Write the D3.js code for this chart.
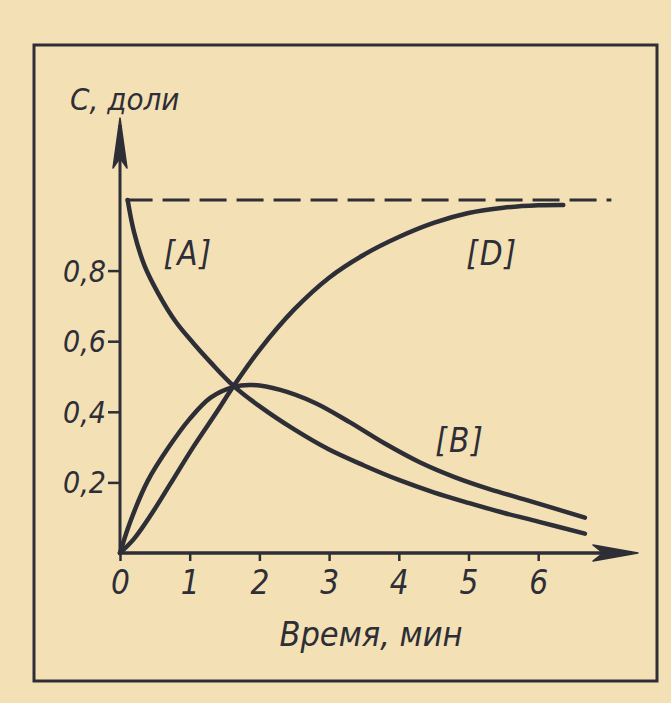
<!DOCTYPE html>
<html>
<head>
<meta charset="utf-8">
<script src="https://cdn.jsdelivr.net/npm/d3@7"></script>
<style>
  html, body { margin: 0; padding: 0; background: #f3e0b5; }
  svg { display: block; }
  text { font-family: "DejaVu Sans Condensed", "DejaVu Sans", sans-serif; font-style: italic; fill: #2e2e36; }
</style>
</head>
<body>
<svg id="chart" width="671" height="703"></svg>
<script>
// ---- data ----
const xTicks = [0, 1, 2, 3, 4, 5, 6];
const yTicks = [0.2, 0.4, 0.6, 0.8];
const saturation = 1.0;

// time, min -> concentration, fractions
const tA = [0.11, 0.20, 0.35, 0.55, 0.80, 1.05, 1.30, 1.62, 2.00, 2.50, 3.00, 3.50, 4.00, 4.50, 5.00, 5.50, 6.00, 6.67];
const cA = [1.00, 0.91, 0.815, 0.735, 0.655, 0.595, 0.54, 0.475, 0.416, 0.35, 0.293, 0.248, 0.207, 0.172, 0.142, 0.114, 0.089, 0.055];

const tB = [0, 0.15, 0.40, 0.70, 1.00, 1.30, 1.62, 1.90, 2.30, 2.80, 3.30, 3.80, 4.30, 4.80, 5.30, 5.80, 6.67];
const cB = [0, 0.09, 0.205, 0.30, 0.38, 0.44, 0.47, 0.476, 0.462, 0.425, 0.37, 0.31, 0.257, 0.215, 0.181, 0.152, 0.10];

const tD = [0, 0.20, 0.45, 0.72, 1.05, 1.39, 1.62, 2.00, 2.50, 3.00, 3.50, 4.00, 4.50, 5.00, 5.50, 6.00, 6.36];
const cD = [0, 0.04, 0.11, 0.195, 0.30, 0.40, 0.47, 0.575, 0.69, 0.78, 0.845, 0.895, 0.935, 0.963, 0.978, 0.985, 0.986];

const seriesNames = ["[A]", "[B]", "[D]"];
const labelPos = [[0.98, 0.815], [4.88, 0.286], [5.34, 0.815]]; // [t, C] where each label sits
const yTitle = "С, доли";
const xTitle = "Время, мин";

// ---- drawing ----
const ink = "#2e2e36";
const font = '"DejaVu Sans Condensed", "DejaVu Sans", sans-serif';
const svg = d3.select("#chart");

const x = d3.scaleLinear().domain([0, 7]).range([120, 120 + 7 * 69.7]);
const y = d3.scaleLinear().domain([0, 1]).range([553, 200]);

// outer frame
svg.append("rect")
  .attr("x", 34).attr("y", 45).attr("width", 623).attr("height", 636)
  .attr("fill", "none").attr("stroke", ink).attr("stroke-width", 3);

// dashed saturation line
svg.append("line")
  .attr("x1", x(0.08)).attr("x2", x(7.05))
  .attr("y1", y(saturation)).attr("y2", y(saturation))
  .attr("stroke", ink).attr("stroke-width", 3)
  .attr("stroke-dasharray", "27,10");

// x axis
const xAxis = d3.axisBottom(x).tickValues(xTicks).tickSize(8).tickPadding(9)
  .tickFormat(d => String(d));
const gx = svg.append("g").attr("transform", `translate(0,${y(0)})`).call(xAxis);
gx.select(".domain").remove();
gx.selectAll(".tick line").attr("stroke", ink).attr("stroke-width", 2.5);
gx.selectAll(".tick text").attr("font-size", 33).attr("fill", ink)
  .attr("font-family", font).attr("font-style", "italic").attr("dy", "0.72em");

// y axis
const yAxis = d3.axisLeft(y).tickValues(yTicks).tickSize(12).tickPadding(2)
  .tickFormat(d => d3.format(".1f")(d).replace(".", ","));
const gy = svg.append("g").attr("transform", `translate(${x(0)},0)`).call(yAxis);
gy.select(".domain").remove();
gy.selectAll(".tick line").attr("stroke", ink).attr("stroke-width", 2.5);
gy.selectAll(".tick text").attr("font-size", 30).attr("fill", ink)
  .attr("font-family", font).attr("font-style", "italic").attr("dy", "0.35em");

// axis lines with arrows
const x0 = x(0), y0 = y(0);
svg.append("line").attr("x1", x0).attr("y1", y0).attr("x2", x0).attr("y2", 125)
  .attr("stroke", ink).attr("stroke-width", 3);
svg.append("path")
  .attr("d", `M${x0},118 L${x0 - 7},168 L${x0},158 L${x0 + 7},168 Z`)
  .attr("fill", ink).attr("stroke", ink).attr("stroke-width", 1.5).attr("stroke-linejoin", "round");

svg.append("line").attr("x1", x0).attr("y1", y0).attr("x2", 632).attr("y2", y0)
  .attr("stroke", ink).attr("stroke-width", 3.5);
svg.append("path")
  .attr("d", `M638,${y0} L593,${y0 - 8} L603,${y0} L593,${y0 + 8} Z`)
  .attr("fill", ink).attr("stroke", ink).attr("stroke-width", 1.5).attr("stroke-linejoin", "round");

// curves
const line = d3.line().x(d => x(d[0])).y(d => y(d[1])).curve(d3.curveCatmullRom.alpha(0.5));
const series = [d3.zip(tA, cA), d3.zip(tB, cB), d3.zip(tD, cD)];
series.forEach(s => {
  svg.append("path").datum(s).attr("d", line)
    .attr("fill", "none").attr("stroke", ink).attr("stroke-width", 4.5)
    .attr("stroke-linecap", "round");
});

// series labels
seriesNames.forEach((name, i) => {
  svg.append("text")
    .attr("x", x(labelPos[i][0])).attr("y", y(labelPos[i][1]))
    .attr("text-anchor", "middle").attr("font-size", 33)
    .attr("letter-spacing", 2)
    .text(name);
});

// axis titles
svg.append("text").attr("x", 70).attr("y", 110).attr("font-size", 31).text(yTitle);
svg.append("text").attr("x", 371).attr("y", 646).attr("text-anchor", "middle")
  .attr("font-size", 34).text(xTitle);
</script>
</body>
</html>
